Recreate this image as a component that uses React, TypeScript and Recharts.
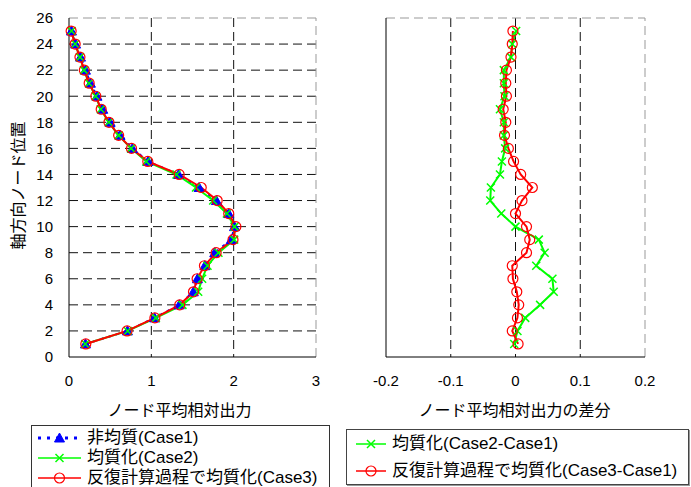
import React from 'react';
import { LineChart, Line, XAxis, YAxis, CartesianGrid, ReferenceLine } from 'recharts';

// node positions along the axis (1..25)
const nodePositions = [1, 2, 3, 4, 5, 6, 7, 8, 9, 10, 11, 12, 13, 14, 15, 16, 17, 18, 19, 20, 21, 22, 23, 24, 25];

// ノード平均相対出力
const case1 = [0.2, 0.71, 1.04, 1.34, 1.51, 1.56, 1.65, 1.77, 1.97, 2.01, 1.94, 1.79, 1.58, 1.33, 0.96, 0.77, 0.62, 0.5, 0.41, 0.34, 0.26, 0.2, 0.14, 0.08, 0.03];
const case2 = [0.198, 0.713, 1.055, 1.378, 1.569, 1.617, 1.682, 1.815, 2.006, 2.01, 1.918, 1.751, 1.542, 1.306, 0.939, 0.754, 0.602, 0.482, 0.386, 0.323, 0.242, 0.182, 0.133, 0.075, 0.031];
const case3 = [0.204, 0.705, 1.043, 1.345, 1.512, 1.556, 1.645, 1.787, 1.992, 2.027, 1.94, 1.8, 1.606, 1.338, 0.957, 0.759, 0.603, 0.485, 0.391, 0.326, 0.245, 0.186, 0.133, 0.075, 0.026];

// 差分
const diff21 = [-0.002, 0.003, 0.015, 0.038, 0.059, 0.057, 0.032, 0.045, 0.036, 0.0, -0.022, -0.039, -0.038, -0.024, -0.021, -0.016, -0.018, -0.018, -0.024, -0.017, -0.018, -0.018, -0.007, -0.005, 0.001];
const diff31 = [0.004, -0.005, 0.003, 0.005, 0.002, -0.004, -0.005, 0.017, 0.022, 0.017, 0.0, 0.01, 0.026, 0.008, -0.003, -0.011, -0.017, -0.015, -0.019, -0.014, -0.015, -0.014, -0.007, -0.005, -0.004];

const yTicks = [0, 2, 4, 6, 8, 10, 12, 14, 16, 18, 20, 22, 24, 26];
const yGrid = [2, 4, 6, 8, 10, 12, 14, 16, 18, 20, 22, 24];
const leftXTicks = [0, 1, 2, 3];
const leftXGrid = [1, 2];
const rightXTicks = [-0.2, -0.1, 0, 0.1, 0.2];
const rightXGrid = [-0.1, 0, 0.1];

const rows = nodePositions.map((pos, i) => ({
  pos,
  c1: case1[i],
  c2: case2[i],
  c3: case3[i],
  d21: diff21[i],
  d31: diff31[i],
}));

const FONT = '"Liberation Sans", "Noto Sans CJK JP", sans-serif';
const BLUE = '#0000ff';
const GREEN = '#00ff00';
const RED = '#ff0000';
const tickStyle = { fontSize: 15, fill: '#000', fontFamily: FONT };

const Tri = ({ cx, cy }: any) => (
  <polygon points={`${cx},${cy - 5} ${cx - 5},${cy + 4} ${cx + 5},${cy + 4}`} fill={BLUE} stroke={BLUE} />
);
const Cross = ({ cx, cy }: any) => (
  <path d={`M${cx - 4},${cy - 4}L${cx + 4},${cy + 4}M${cx - 4},${cy + 4}L${cx + 4},${cy - 4}`} stroke={GREEN} strokeWidth={1.5} fill="none" />
);
const Ring = ({ cx, cy }: any) => (
  <circle cx={cx} cy={cy} r={5} stroke={RED} strokeWidth={1.2} fill="none" />
);

const YTitle = ({ viewBox }: any) => {
  const x = viewBox.x + 18;
  const y = viewBox.y + viewBox.height / 2 - 2;
  return (
    <text x={x} y={y} transform={`rotate(-90 ${x} ${y})`} textAnchor="middle" dominantBaseline="central"
      style={{ fontSize: 16, fontFamily: FONT, fill: '#000' }}>
      軸方向ノード位置
    </text>
  );
};

const XTitle = ({ viewBox, text, shift }: any) => (
  <text x={viewBox.x + viewBox.width / 2 + shift} y={viewBox.y + 59} textAnchor="middle"
    style={{ fontSize: 16, fontFamily: FONT, fill: '#000' }}>
    {text}
  </text>
);

const gridProps = { stroke: '#111', strokeDasharray: '9 5' };

const LegendRow = ({ kind, label, width, height }: any) => (
  <div style={{ display: 'flex', alignItems: 'center', height }}>
    <svg width={width} height={12} style={{ flexShrink: 0 }}>
      {kind === 'c1' && (
        <>
          <line x1={0} y1={6} x2={width} y2={6} stroke={BLUE} strokeWidth={3} strokeDasharray="3 6" />
          <Tri cx={width / 2} cy={6} />
        </>
      )}
      {kind === 'c2' && (
        <>
          <line x1={0} y1={6} x2={width} y2={6} stroke={GREEN} strokeWidth={1.5} />
          <Cross cx={width / 2} cy={6} />
        </>
      )}
      {kind === 'c3' && (
        <>
          <line x1={0} y1={6} x2={width} y2={6} stroke={RED} strokeWidth={1.5} />
          <Ring cx={width / 2} cy={6} />
        </>
      )}
    </svg>
    <span style={{ marginLeft: 6, fontSize: 17, lineHeight: '18px', whiteSpace: 'nowrap' }}>{label}</span>
  </div>
);

export default function App() {
  return (
    <div style={{ position: 'absolute', left: 0, top: 0, width: 691, height: 487, background: '#fff', fontFamily: FONT, overflow: 'hidden' }}>
      {/* left: output profile */}
      <div style={{ position: 'absolute', left: 0, top: 0 }}>
        <LineChart layout="vertical" width={330} height={420} data={rows} margin={{ top: 18, right: 14, bottom: 0, left: 0 }}>
          <CartesianGrid {...gridProps} horizontalValues={yGrid} verticalValues={leftXGrid} />
          <ReferenceLine y={26} stroke="#999" strokeDasharray="9 5" />
          <ReferenceLine x={3} stroke="#999" strokeDasharray="9 5" />
          <XAxis type="number" domain={[0, 3]} ticks={leftXTicks} tickLine={false} tickSize={6} tickMargin={12}
            axisLine={{ stroke: '#000' }} tick={tickStyle} height={63}
            label={<XTitle text="ノード平均相対出力" shift={-13} />} />
          <YAxis type="number" dataKey="pos" domain={[0, 26]} ticks={yTicks} reversed tickLine={false} tickSize={6} tickMargin={10}
            axisLine={{ stroke: '#000' }} tick={tickStyle} width={69} interval={0}
            label={<YTitle />} />
          <Line dataKey="c1" stroke={BLUE} strokeWidth={2} strokeDasharray="3 5" isAnimationActive={false}
            dot={(p: any) => <Tri key={p.index} cx={p.cx} cy={p.cy} />} />
          <Line dataKey="c2" stroke={GREEN} strokeWidth={2} isAnimationActive={false}
            dot={(p: any) => <Cross key={p.index} cx={p.cx} cy={p.cy} />} />
          <Line dataKey="c3" stroke={RED} strokeWidth={2} isAnimationActive={false}
            dot={(p: any) => <Ring key={p.index} cx={p.cx} cy={p.cy} />} />
        </LineChart>
      </div>

      {/* right: differences */}
      <div style={{ position: 'absolute', left: 340, top: 0 }}>
        <LineChart layout="vertical" width={351} height={420} data={rows} margin={{ top: 18, right: 46, bottom: 0, left: 0 }}>
          <CartesianGrid {...gridProps} horizontalValues={yGrid} verticalValues={rightXGrid} />
          <ReferenceLine y={26} stroke="#999" strokeDasharray="9 5" />
          <ReferenceLine x={0.2} stroke="#999" strokeDasharray="9 5" />
          <XAxis type="number" domain={[-0.2, 0.2]} ticks={rightXTicks} tickLine={false} tickSize={6} tickMargin={12}
            axisLine={{ stroke: '#000' }} tick={tickStyle} height={63}
            label={<XTitle text="ノード平均相対出力の差分" shift={-1} />} />
          <YAxis type="number" dataKey="pos" domain={[0, 26]} ticks={yTicks} reversed tick={false} tickLine={false}
            axisLine={{ stroke: '#000' }} width={46} />
          <Line dataKey="d21" stroke={GREEN} strokeWidth={2} isAnimationActive={false}
            dot={(p: any) => <Cross key={p.index} cx={p.cx} cy={p.cy} />} />
          <Line dataKey="d31" stroke={RED} strokeWidth={2} isAnimationActive={false}
            dot={(p: any) => <Ring key={p.index} cx={p.cx} cy={p.cy} />} />
        </LineChart>
      </div>

      {/* legends */}
      <div style={{ position: 'absolute', left: 31, top: 425, width: 299, height: 80, border: '1px solid #333', background: '#fff', paddingTop: 2, paddingLeft: 6, boxSizing: 'border-box' }}>
        <LegendRow kind="c1" label="非均質(Case1)" width={43} height={20} />
        <LegendRow kind="c2" label="均質化(Case2)" width={43} height={20} />
        <LegendRow kind="c3" label="反復計算過程で均質化(Case3)" width={43} height={20} />
      </div>
      <div style={{ position: 'absolute', left: 346, top: 429, width: 343, height: 56, border: '1px solid #444', boxShadow: '1px 1px 0 #999', background: '#fff', paddingLeft: 9, boxSizing: 'border-box' }}>
        <LegendRow kind="c2" label="均質化(Case2-Case1)" width={30} height={27} />
        <LegendRow kind="c3" label="反復計算過程で均質化(Case3-Case1)" width={30} height={27} />
      </div>
    </div>
  );
}
